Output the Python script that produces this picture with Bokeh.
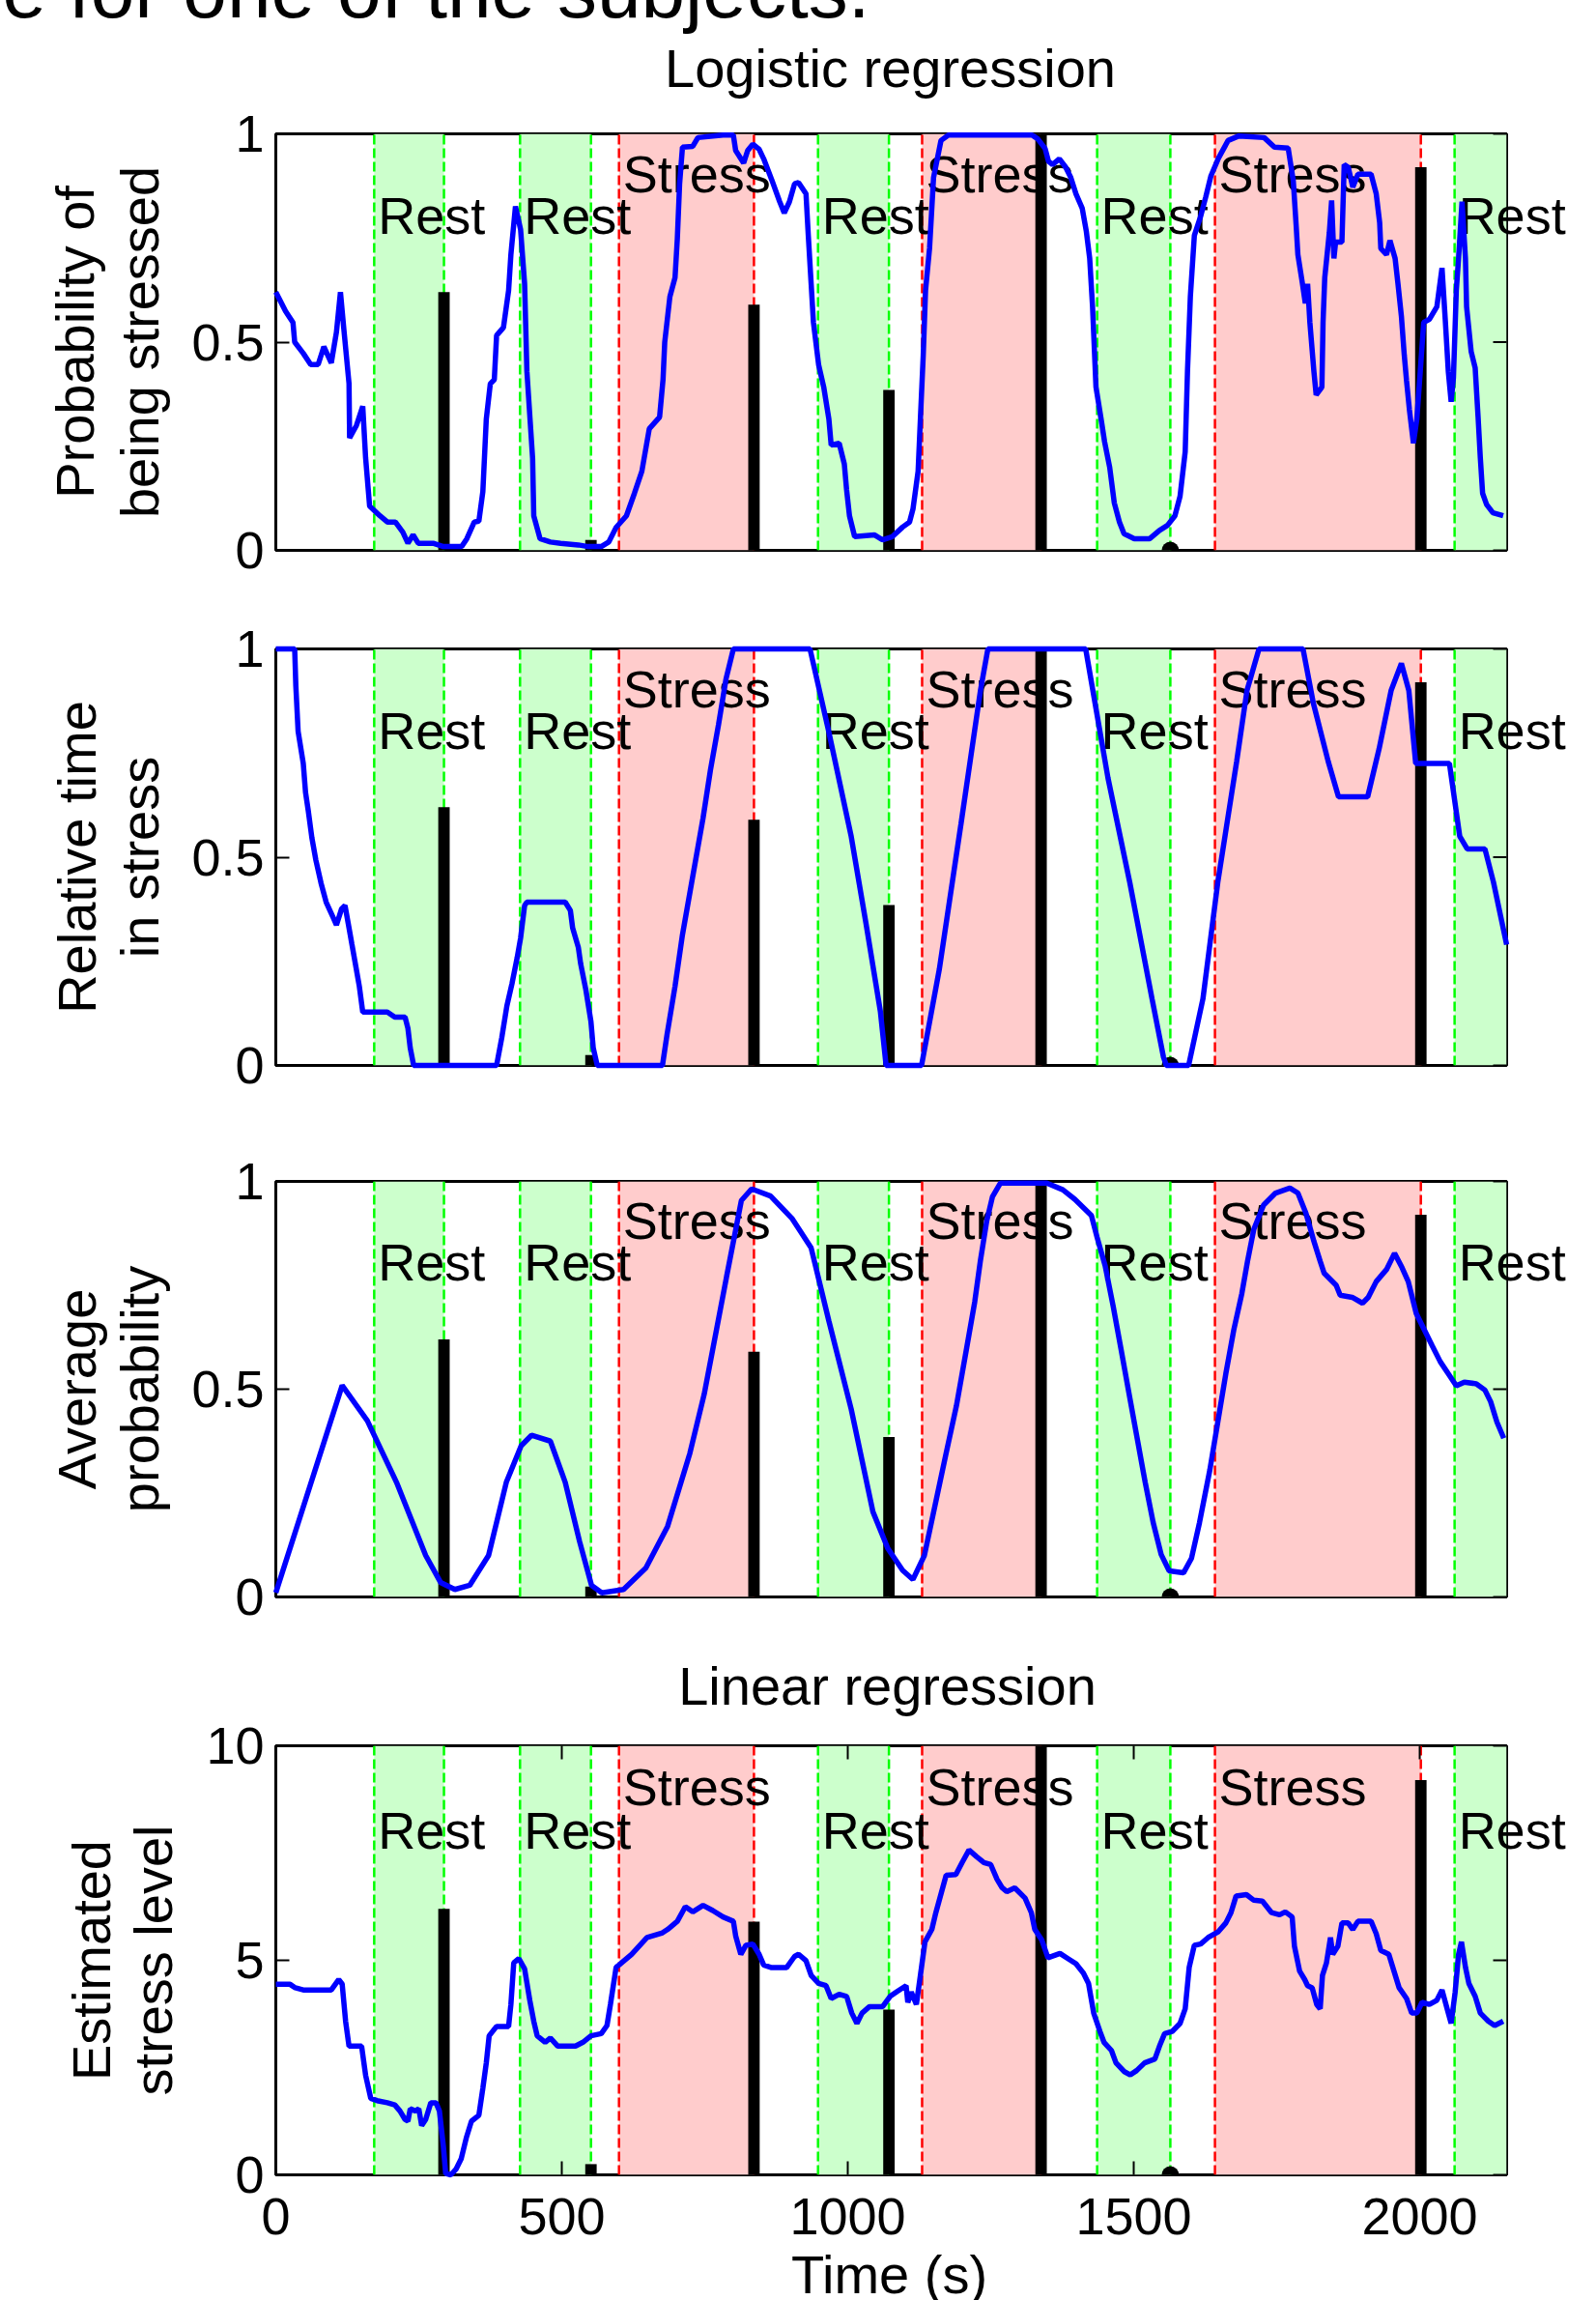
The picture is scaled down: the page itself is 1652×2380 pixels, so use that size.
from bokeh.plotting import figure
from bokeh.models import Range1d, FixedTicker
from bokeh.layouts import column
from bokeh.embed import file_html
from bokeh.resources import INLINE
from bokeh.core.properties import value

# ---------------- data ----------------
phase_names = ["Rest", "Rest", "Stress", "Rest", "Stress", "Rest", "Stress", "Rest"]
phase_start = [172, 427, 600, 948, 1130, 1436, 1642, 2061]
phase_end = [294, 551, 836, 1072, 1338, 1564, 2002, 2152]

report_time = [294, 551, 836, 1072, 1338, 1564, 2002]
report_level = [0.62, 0.025, 0.59, 0.385, 1.0, 0.0, 0.92]   # self-reported stress, 0..1

logistic_t = [0, 17, 30, 33, 48, 61, 74, 84, 97, 106, 113, 119, 128, 129, 141, 152, 157, 164, 182, 195,
              209, 222, 231, 240, 249, 275, 293, 325, 334, 347, 355, 362, 368, 375, 382, 386, 398, 407,
              411, 419, 428, 435, 439, 449, 451, 462, 480, 498, 529, 546, 569, 582, 595, 613, 627, 640,
              653, 671, 677, 680, 689, 698, 702, 706, 711, 729, 738, 782, 800, 804, 818, 825, 834, 845,
              853, 867, 881, 889, 898, 907, 914, 927, 931, 936, 940, 949, 958, 967, 971, 985, 994, 998,
              1003, 1012, 1047, 1061, 1078, 1096, 1108, 1114, 1123, 1127, 1132, 1136, 1143, 1150, 1163,
              1176, 1322, 1332, 1345, 1351, 1358, 1370, 1381, 1390, 1399, 1410, 1417, 1423, 1428, 1434,
              1443, 1449, 1458, 1466, 1475, 1483, 1501, 1528, 1545, 1559, 1572, 1581, 1590, 1594, 1599,
              1606, 1617, 1626, 1635, 1648, 1665, 1684, 1728, 1746, 1770, 1779, 1784, 1787, 1795, 1800,
              1804, 1808, 1815, 1819, 1829, 1831, 1834, 1842, 1846, 1850, 1853, 1864, 1868, 1875, 1883,
              1892, 1915, 1924, 1930, 1932, 1942, 1948, 1957, 1962, 1968, 1973, 1977, 1982, 1989, 1995,
              2001, 2007, 2017, 2030, 2039, 2045, 2050, 2055, 2059, 2064, 2068, 2074, 2080, 2082, 2090,
              2097, 2102, 2106, 2110, 2117, 2128, 2146]
logistic_p = [0.62, 0.574, 0.547, 0.50, 0.473, 0.446, 0.446, 0.489, 0.45, 0.524, 0.62, 0.53, 0.40, 0.27,
              0.30, 0.346, 0.222, 0.106, 0.083, 0.068, 0.068, 0.044, 0.017, 0.037, 0.017, 0.017, 0.009,
              0.009, 0.028, 0.068, 0.07, 0.141, 0.315, 0.40, 0.41, 0.516, 0.535, 0.624, 0.71, 0.826, 0.77,
              0.64, 0.43, 0.22, 0.083, 0.028, 0.02, 0.017, 0.013, 0.009, 0.009, 0.02, 0.055, 0.083, 0.137,
              0.19, 0.292, 0.32, 0.41, 0.50, 0.609, 0.655, 0.748, 0.88, 0.968, 0.97, 0.991, 0.997, 0.997,
              0.96, 0.93, 0.96, 0.975, 0.963, 0.94, 0.89, 0.837, 0.81, 0.837, 0.88, 0.883, 0.856, 0.756,
              0.64, 0.547, 0.446, 0.392, 0.315, 0.253, 0.257, 0.207, 0.145, 0.083, 0.033, 0.037, 0.025,
              0.033, 0.056, 0.068, 0.099, 0.19, 0.315, 0.469, 0.624, 0.725, 0.895, 0.984, 0.997, 0.997,
              0.988, 0.965, 0.934, 0.926, 0.94, 0.92, 0.895, 0.856, 0.821, 0.767, 0.701, 0.585, 0.392,
              0.315, 0.261, 0.199, 0.114, 0.068, 0.04, 0.028, 0.028, 0.048, 0.06, 0.083, 0.13, 0.237, 0.43,
              0.609, 0.756, 0.802, 0.849, 0.899, 0.941, 0.984, 0.995, 0.991, 0.968, 0.966, 0.887, 0.78,
              0.71, 0.64, 0.593, 0.64, 0.547, 0.43, 0.373, 0.392, 0.547, 0.655, 0.763, 0.84, 0.701, 0.74,
              0.74, 0.926, 0.92, 0.872, 0.903, 0.903, 0.856, 0.787, 0.725, 0.71, 0.744, 0.701, 0.64, 0.562,
              0.469, 0.407, 0.338, 0.257, 0.315, 0.43, 0.547, 0.555, 0.585, 0.678, 0.547, 0.43, 0.357,
              0.415, 0.624, 0.701, 0.837, 0.701, 0.585, 0.477, 0.438, 0.322, 0.222, 0.137, 0.11, 0.09, 0.083]

reltime_t = [0, 33, 35, 39, 48, 52, 57, 63, 70, 79, 88, 101, 106, 115, 121, 128, 133, 141, 146, 152, 195,
             208, 226, 231, 235, 241, 386, 395, 404, 413, 422, 428, 435, 439, 506, 515, 519, 529, 533, 542,
             551, 555, 562, 676, 684, 698, 711, 729, 747, 760, 774, 787, 800, 934, 967, 1006, 1032, 1057,
             1067, 1129, 1160, 1198, 1232, 1245, 1416, 1455, 1493, 1532, 1552, 1557, 1596, 1621, 1647,
             1680, 1698, 1719, 1796, 1814, 1840, 1858, 1909, 1929, 1950, 1968, 1981, 1993, 2052, 2070,
             2083, 2114, 2129, 2152]
reltime_v = [1.0, 1.0, 0.911, 0.802, 0.725, 0.655, 0.609, 0.547, 0.493, 0.438, 0.392, 0.353, 0.337, 0.376,
             0.384, 0.33, 0.291, 0.229, 0.19, 0.128, 0.128, 0.116, 0.116, 0.089, 0.042, 0.0, 0.0, 0.066,
             0.143, 0.197, 0.259, 0.306, 0.384, 0.392, 0.392, 0.372, 0.33, 0.283, 0.244, 0.182, 0.105,
             0.042, 0.0, 0.0, 0.074, 0.19, 0.314, 0.454, 0.594, 0.71, 0.818, 0.927, 1.0, 1.0, 0.80, 0.55,
             0.34, 0.13, 0.0, 0.0, 0.23, 0.58, 0.90, 1.0, 1.0, 0.69, 0.44, 0.16, 0.02, 0.0, 0.0, 0.16, 0.44,
             0.73, 0.90, 1.0, 1.0, 0.87, 0.73, 0.645, 0.645, 0.76, 0.90, 0.965, 0.90, 0.725, 0.725, 0.55,
             0.52, 0.52, 0.44, 0.29]

avgprob_t = [0, 116, 160, 211, 262, 288, 313, 339, 372, 403, 429, 447, 480, 506, 531, 552, 570, 608, 647,
             685, 724, 749, 788, 814, 832, 865, 903, 936, 967, 1006, 1044, 1070, 1096, 1114, 1134, 1172,
             1190, 1208, 1222, 1232, 1243, 1253, 1267, 1348, 1376, 1397, 1426, 1436, 1450, 1464, 1478, 1492,
             1506, 1520, 1534, 1548, 1562, 1587, 1601, 1615, 1633, 1647, 1661, 1675, 1689, 1699, 1710, 1727,
             1748, 1773, 1787, 1801, 1815, 1826, 1833, 1854, 1861, 1882, 1900, 1910, 1924, 1942, 1956, 1969,
             1980, 1994, 2008, 2022, 2036, 2050, 2064, 2078, 2099, 2114, 2124, 2135, 2147]
avgprob_v = [0.01, 0.509, 0.424, 0.276, 0.10, 0.035, 0.018, 0.028, 0.10, 0.276, 0.364, 0.389, 0.375, 0.276,
             0.134, 0.028, 0.01, 0.018, 0.07, 0.17, 0.346, 0.488, 0.77, 0.954, 0.982, 0.965, 0.91, 0.84,
             0.664, 0.452, 0.205, 0.117, 0.064, 0.042, 0.10, 0.346, 0.46, 0.60, 0.71, 0.81, 0.905, 0.963,
             0.996, 0.996, 0.98, 0.957, 0.918, 0.865, 0.797, 0.70, 0.595, 0.488, 0.382, 0.276, 0.179, 0.102,
             0.063, 0.058, 0.093, 0.179, 0.305, 0.421, 0.537, 0.643, 0.73, 0.808, 0.885, 0.943, 0.972, 0.984,
             0.972, 0.924, 0.856, 0.808, 0.779, 0.75, 0.726, 0.721, 0.707, 0.721, 0.759, 0.788, 0.827, 0.793,
             0.759, 0.682, 0.643, 0.604, 0.566, 0.537, 0.508, 0.517, 0.513, 0.498, 0.47, 0.421, 0.382]

linear_t = [0, 25, 34, 48, 97, 110, 116, 122, 128, 150, 157, 166, 177, 195, 208, 217, 226, 231, 235, 244,
            250, 255, 262, 271, 280, 286, 293, 297, 306, 315, 324, 333, 342, 355, 362, 368, 373, 386, 407,
            411, 416, 425, 435, 444, 451, 457, 471, 480, 493, 524, 537, 551, 569, 579, 585, 595, 600, 622,
            649, 676, 685, 702, 716, 729, 747, 764, 782, 800, 804, 813, 822, 834, 845, 853, 867, 893, 907,
            914, 927, 936, 949, 962, 971, 985, 998, 1007, 1016, 1025, 1038, 1061, 1074, 1087, 1102, 1105,
            1111, 1120, 1127, 1135, 1147, 1154, 1172, 1189, 1200, 1212, 1225, 1238, 1250, 1261, 1270, 1278,
            1292, 1310, 1321, 1327, 1339, 1350, 1371, 1385, 1399, 1412, 1421, 1430, 1441, 1448, 1461, 1469,
            1483, 1494, 1505, 1519, 1537, 1545, 1554, 1567, 1581, 1590, 1597, 1606, 1617, 1630, 1648, 1661,
            1670, 1679, 1697, 1710, 1725, 1741, 1755, 1765, 1777, 1781, 1790, 1799, 1804, 1812, 1820, 1826,
            1830, 1837, 1844, 1848, 1857, 1864, 1875, 1883, 1892, 1915, 1924, 1932, 1946, 1955, 1964, 1977,
            1986, 1995, 2004, 2017, 2030, 2039, 2048, 2055, 2062, 2068, 2073, 2080, 2086, 2097, 2106, 2120,
            2131, 2146]
linear_v = [4.44, 4.44, 4.36, 4.31, 4.31, 4.55, 4.45, 3.58, 3.0, 3.0, 2.32, 1.78, 1.73, 1.68, 1.63, 1.49,
            1.29, 1.25, 1.54, 1.49, 1.54, 1.15, 1.29, 1.68, 1.68, 1.49, 0.66, 0.03, 0.0, 0.13, 0.37, 0.86,
            1.25, 1.39, 2.02, 2.61, 3.24, 3.46, 3.46, 3.97, 4.94, 5.04, 4.80, 4.07, 3.58, 3.24, 3.09, 3.19,
            3.0, 3.0, 3.09, 3.24, 3.29, 3.48, 3.97, 4.84, 4.89, 5.14, 5.53, 5.64, 5.72, 5.91, 6.25, 6.13,
            6.28, 6.16, 6.01, 5.91, 5.57, 5.14, 5.35, 5.38, 5.14, 4.89, 4.83, 4.83, 5.09, 5.14, 4.99, 4.65,
            4.46, 4.41, 4.11, 4.21, 4.16, 3.77, 3.53, 3.77, 3.92, 3.92, 4.16, 4.28, 4.41, 4.02, 4.26, 3.97,
            4.65, 5.43, 5.72, 6.11, 6.98, 7.0, 7.28, 7.57, 7.42, 7.28, 7.23, 6.89, 6.69, 6.60, 6.69, 6.45,
            6.11, 5.72, 5.48, 5.06, 5.16, 5.04, 4.92, 4.70, 4.46, 3.77, 3.34, 3.09, 2.90, 2.61, 2.41, 2.33,
            2.43, 2.61, 2.70, 3.0, 3.29, 3.34, 3.53, 3.87, 4.84, 5.35, 5.38, 5.53, 5.67, 5.87, 6.11, 6.50,
            6.53, 6.40, 6.38, 6.11, 6.06, 6.13, 6.01, 5.33, 4.75, 4.55, 4.41, 4.36, 3.97, 3.87, 4.65, 4.94,
            5.53, 5.14, 5.33, 5.87, 5.87, 5.72, 5.91, 5.91, 5.62, 5.23, 5.14, 4.75, 4.36, 4.11, 3.77, 3.77,
            4.02, 3.97, 4.07, 4.31, 3.87, 3.53, 4.26, 5.14, 5.43, 4.84, 4.46, 4.16, 3.77, 3.58, 3.48, 3.58]

y_ticks_prob = [0, 0.5, 1]
y_tick_labels_prob = ["0", "0.5", "1"]
y_ticks_lin = [0, 5, 10]
y_tick_labels_lin = ["0", "5", "10"]
x_ticks = [0, 500, 1000, 1500, 2000]
x_tick_labels = ["0", "500", "1000", "1500", "2000"]

# ---------------- layout constants ----------------
FONT = "Liberation Sans"
X_MAX = 2152
FRAME_LEFT = 285            # page x of frame left edge
FRAME_W = 1274
PX_PER_S = FRAME_W / X_MAX
BORDER_L = FRAME_LEFT
BORDER_R = 85
FIG_W = BORDER_L + FRAME_W + BORDER_R
TICK_LEN = 14
BASE_SHIFT = 0.38           # empirical baseline correction (fraction of font size)

GREEN_FILL = "#CCFFCC"
RED_FILL = "#FFCCCC"
GREEN_LINE = "#00FF00"
RED_LINE = "#FF0000"
BLUE = "#0000FF"


def px_x(page_x):
    return (page_x - FRAME_LEFT) / PX_PER_S


def make_panel(t, v, ymax, yticks, ylabels, frame_top, frame_h, top_b, bot_b,
               ylab_lines, ylab_x, show_x=False):
    height = top_b + frame_h + bot_b
    p = figure(width=FIG_W, height=height, x_range=Range1d(0, X_MAX), y_range=Range1d(0, ymax),
               output_backend="svg", toolbar_location=None,
               min_border_left=BORDER_L, min_border_right=BORDER_R,
               min_border_top=top_b, min_border_bottom=bot_b,
               x_axis_location="below" if show_x else None)
    p.xgrid.visible = False
    p.ygrid.visible = False
    p.background_fill_color = "white"
    p.border_fill_color = "white"
    p.outline_line_color = "black"
    p.outline_line_width = 3

    s_per_px = 1.0 / PX_PER_S
    y_per_px = ymax / frame_h

    def py(page_y):
        return (frame_top + frame_h - page_y) * y_per_px

    def text_at(page_x, page_y, text, size, align="left", angle=0):
        fs = float(size.replace("px", ""))
        if angle == 0:
            x, y = px_x(page_x), py(page_y - BASE_SHIFT * fs)
        else:
            x, y = px_x(page_x - BASE_SHIFT * fs), py(page_y)
        p.text(x=[x], y=[y], text=[text], angle=angle, angle_units="deg",
               text_font=value(FONT), text_font_size=value(size), text_color="black",
               text_align=align, text_baseline="alphabetic", level="overlay")

    # shaded phases
    fills = [GREEN_FILL if n == "Rest" else RED_FILL for n in phase_names]
    p.quad(left=phase_start, right=[min(e, X_MAX) for e in phase_end], bottom=0, top=ymax,
           fill_color=fills, line_color=None)

    # dashed boundaries
    xs, cols = [], []
    for n, s, e in zip(phase_names, phase_start, phase_end):
        c = GREEN_LINE if n == "Rest" else RED_LINE
        for b in (s, e):
            if b < X_MAX:
                xs.append(b)
                cols.append(c)
    p.segment(x0=xs, y0=0, x1=xs, y1=ymax, line_color=cols, line_width=2.5, line_dash="10 4")

    # zero-level self report marker (clipped by the frame -> half dot)
    zt = [tt for tt, r in zip(report_time, report_level) if r == 0]
    p.scatter(x=zt, y=[0] * len(zt), size=18, marker="circle", fill_color="black",
              line_color=None)

    # phase labels (drawn under lines and bars, not clipped)
    lab_y = [(0.757 if n == "Rest" else 0.857) * ymax + BASE_SHIFT * 54 * y_per_px
             for n in phase_names]
    p.text(x=[s + 4 * s_per_px for s in phase_start], y=lab_y, text=phase_names,
           text_font=value(FONT), text_font_size=value("54px"), text_color="black",
           text_align="left", text_baseline="alphabetic", level="overlay")

    # self-report bars
    p.vbar(x=report_time, top=[r * ymax for r in report_level], bottom=0, width=20,
           fill_color="black", line_color=None, level="overlay")

    # estimate curve
    p.line(t, v, line_color=BLUE, line_width=5.5, level="overlay")

    # right-hand inner ticks
    p.segment(x0=[X_MAX - TICK_LEN * s_per_px] * len(yticks), y0=yticks,
              x1=[X_MAX] * len(yticks), y1=yticks, line_color="black", line_width=2,
              level="overlay")

    # left axis
    yax = p.yaxis[0]
    yax.ticker = FixedTicker(ticks=yticks)
    yax.major_label_overrides = {tk: lb for tk, lb in zip(yticks, ylabels)}
    yax.major_label_text_font = FONT
    yax.major_label_text_font_size = "54px"
    yax.major_label_text_color = "black"
    yax.major_label_standoff = 12
    axes = [yax]

    if show_x:
        xax = p.xaxis[0]
        xax.ticker = FixedTicker(ticks=x_ticks)
        xax.major_label_overrides = {tk: lb for tk, lb in zip(x_ticks, x_tick_labels)}
        xax.major_label_text_font = FONT
        xax.major_label_text_font_size = "54px"
        xax.major_label_text_color = "black"
        xax.major_label_standoff = 24
        axes.append(xax)
        # top inner ticks
        p.segment(x0=x_ticks, y0=[ymax - TICK_LEN * y_per_px] * len(x_ticks),
                  x1=x_ticks, y1=[ymax] * len(x_ticks), line_color="black", line_width=2,
                  level="overlay")

    for ax in axes:
        ax.major_tick_in = TICK_LEN
        ax.major_tick_out = 0
        ax.major_tick_line_width = 2
        ax.major_tick_line_color = "black"
        ax.minor_tick_line_color = None
        ax.axis_line_color = None

    # y label (two lines, rotated)
    mid = frame_top + frame_h / 2
    for line, bx in zip(ylab_lines, ylab_x):
        text_at(bx, mid, line, "56px", align="center", angle=90)
    return p, text_at


# panel 1
p1, txt1 = make_panel(logistic_t, logistic_p, 1, y_ticks_prob, y_tick_labels_prob,
                      frame_top=138, frame_h=431, top_b=138, bot_b=40,
                      ylab_lines=["Probability of", "being stressed"], ylab_x=[98, 165])
txt1(921, 91, "Logistic regression", "56px", align="center")
txt1(2, 20, "e for one of the subjects.", "82px", align="left")

# panel 2
p2, txt2 = make_panel(reltime_t, reltime_v, 1, y_ticks_prob, y_tick_labels_prob,
                      frame_top=671, frame_h=431, top_b=62, bot_b=40,
                      ylab_lines=["Relative time", "in stress"], ylab_x=[100, 165])

# panel 3
p3, txt3 = make_panel(avgprob_t, avgprob_v, 1, y_ticks_prob, y_tick_labels_prob,
                      frame_top=1222, frame_h=430, top_b=80, bot_b=40,
                      ylab_lines=["Average", "probability"], ylab_x=[100, 165])

# panel 4
p4, txt4 = make_panel(linear_t, linear_v, 10, y_ticks_lin, y_tick_labels_lin,
                      frame_top=1806, frame_h=444, top_b=114, bot_b=130,
                      ylab_lines=["Estimated", "stress level"], ylab_x=[115, 179], show_x=True)
txt4(918, 1765, "Linear regression", "56px", align="center")
txt4(920, 2374, "Time (s)", "56px", align="center")

layout = column(p1, p2, p3, p4, spacing=0)
open("out.html", "w").write(file_html(layout, INLINE))
